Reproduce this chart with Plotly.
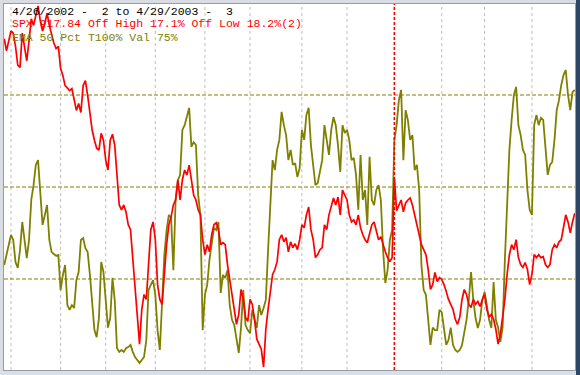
import plotly.graph_objects as go

# trading-day index 0 = 4/26/2002 ... 253 = 4/29/2003
spx = [1075.9, 1065.0, 1074.0, 1083.0, 1081.0, 1069.0, 1052.0, 1050.0, 1081.0, 1069.0,
       1056.0, 1074.0, 1094.0, 1088.0, 1096.6, 1105.6, 1092.0, 1083.0, 1090.0, 1099.0,
       1088.0, 1078.6, 1072.0, 1067.0, 1069.0, 1048.9, 1042.6, 1033.5, 1030.8, 1029.0,
       1030.8, 1020.0, 1011.0, 1017.3, 1009.2, 1033.5, 1038.0, 1024.5, 1006.5, 993.0,
       984.0, 976.8, 975.0, 990.3, 984.0, 966.0, 957.0, 984.0, 989.4, 979.5,
       952.5, 925.4, 921.0, 925.4, 919.0, 907.4, 903.0, 875.9, 848.8, 821.8,
       799.3, 830.8, 844.3, 839.8, 875.9, 903.0, 910.0, 893.9, 853.3, 839.8,
       835.3, 866.9, 889.4, 907.4, 914.6, 925.4, 929.9, 948.0, 929.9, 948.0,
       957.0, 952.5, 961.5, 948.0, 934.4, 929.9, 921.0, 916.4, 893.9, 880.4,
       889.4, 883.0, 898.4, 907.4, 909.2, 903.0, 889.4, 891.2, 889.4, 871.4,
       857.9, 844.3, 830.8, 817.3, 826.3, 848.8, 839.8, 823.6, 820.0, 839.8,
       835.3, 821.8, 803.8, 799.3, 794.8, 778.6, 812.8, 830.8, 844.3, 862.4,
       866.9, 874.0, 893.9, 898.4, 892.0, 895.7, 883.0, 892.0, 886.7, 890.3,
       884.9, 893.9, 907.4, 904.7, 916.4, 923.6, 903.0, 893.9, 877.7, 880.4,
       884.9, 886.7, 907.4, 903.0, 916.4, 925.4, 931.7, 925.4, 932.6, 916.4,
       938.9, 934.4, 929.9, 916.4, 910.0, 911.9, 907.4, 916.4, 904.7, 898.4,
       893.9, 891.2, 898.4, 907.4, 910.0, 903.0, 893.9, 896.6, 889.4, 883.0,
       877.7, 874.0, 877.7, 950.0, 920.2, 925.4, 929.9, 919.1, 927.2, 929.9,
       931.7, 925.4, 916.4, 907.4, 898.4, 889.4, 884.9, 880.4, 866.9, 848.8,
       853.3, 864.2, 856.0, 859.7, 857.9, 853.3, 847.0, 839.8, 835.3, 830.8,
       821.8, 817.3, 823.6, 839.8, 848.8, 844.3, 835.3, 832.6, 839.8, 835.3,
       838.1, 833.5, 839.8, 844.3, 830.8, 823.6, 826.3, 821.8, 812.8, 799.3,
       808.3, 821.8, 839.8, 862.4, 880.4, 889.4, 884.9, 893.9, 877.7, 871.4,
       868.8, 873.2, 866.9, 853.3, 862.4, 880.4, 877.7, 880.4, 877.7, 878.6,
       871.4, 868.8, 871.4, 884.9, 889.4, 886.7, 892.0, 893.9, 904.7, 916.4,
       910.0, 900.2, 910.0, 917.84]

ema_pct = [28.8, 31.5, 34.2, 37.0, 35.6, 29.6, 28.0, 32.9, 40.5, 36.1,
           30.7, 35.6, 46.5, 50.5, 56.0, 57.3, 47.8, 39.7, 42.4, 45.1,
           35.6, 32.3, 31.8, 31.3, 31.5, 22.0, 26.1, 28.8, 17.9, 16.6,
           17.9, 17.1, 24.7, 26.9, 35.6, 36.1, 33.4, 32.3, 26.1, 17.9,
           11.1, 9.2, 14.4, 29.6, 26.9, 19.3, 11.8, 14.4, 25.3, 19.3,
           6.2, 5.2, 5.7, 5.2, 6.2, 6.5, 7.1, 5.2, 3.8, 3.0,
           2.2, 3.0, 3.8, 8.4, 22.0, 23.4, 24.7, 20.7, 11.1, 5.7,
           19.3, 31.5, 38.3, 42.4, 41.6, 27.4, 46.5, 51.9, 53.3, 65.5,
           66.8, 69.6, 71.5, 60.9, 62.2, 61.4, 47.8, 42.4, 11.1, 20.7,
           23.4, 30.2, 34.2, 38.9, 38.3, 40.5, 21.2, 26.1, 25.3, 27.4,
           17.9, 13.9, 12.5, 8.4, 4.9, 11.8, 22.0, 12.5, 11.1, 10.3,
           16.6, 13.9, 11.7, 17.9, 15.2, 17.1, 19.3, 32.9, 46.5, 57.3,
           54.6, 60.1, 62.8, 70.4, 66.8, 64.1, 57.3, 60.1, 56.0, 56.5,
           52.7, 55.2, 65.5, 62.8, 69.6, 71.5, 61.4, 56.0, 50.5, 51.1,
           54.1, 57.3, 66.8, 62.8, 58.7, 65.5, 69.0, 66.8, 61.4, 54.1,
           66.8, 64.7, 65.5, 62.8, 57.3, 57.9, 53.3, 43.8, 58.7, 46.5,
           49.2, 39.7, 58.2, 46.5, 45.1, 49.2, 50.5, 46.5, 32.9, 23.9,
           27.4, 35.6, 38.3, 62.8, 66.8, 73.6, 76.4, 57.3, 70.9, 68.2,
           62.8, 64.1, 54.6, 56.0, 49.2, 28.8, 22.0, 20.7, 13.9, 7.1,
           11.8, 11.1, 11.1, 16.6, 16.0, 11.1, 7.1, 8.4, 11.8, 7.1,
           5.7, 5.2, 5.7, 7.1, 11.1, 13.9, 19.3, 26.9, 19.3, 14.4,
           11.7, 13.9, 19.3, 21.5, 17.9, 13.9, 11.7, 24.2, 13.9, 11.8,
           7.9, 11.8, 30.2, 43.8, 60.1, 68.2, 75.0, 77.2, 66.8, 64.1,
           60.1, 58.7, 49.2, 43.8, 42.4, 66.8, 69.6, 66.8, 68.8, 68.2,
           61.4, 53.3, 56.0, 56.8, 62.8, 70.9, 73.6, 77.7, 80.4, 81.8,
           75.0, 70.9, 75.8, 76.4]

days = list(range(len(spx)))

# first trading day of each month (index); year boundary (Jan 2 2003) marked red
month_starts = [3, 25, 45, 67, 89, 109, 132, 152, 194, 213, 234]
year_start = 173
ref_levels = [25, 50, 75]

title_lines = ["4/26/2002 -  2 to 4/29/2003 -  3",
               "SPX 917.84 Off High 17.1% Off Low 18.2%(2)",
               "EMA 50 Pct T100% Val 75%"]
title_colors = ["#000000", "#ff0000", "#808000"]

W, H = 580, 375
L, R, T, B = 4, 5, 4, 5
pw, ph = W - L - R, H - T - B

fig = go.Figure()
fig.add_trace(go.Scatter(x=days, y=ema_pct, mode="lines", yaxis="y",
                         line=dict(color="#808000", width=1.8), hoverinfo="skip"))
fig.add_trace(go.Scatter(x=days, y=spx, mode="lines", yaxis="y2",
                         line=dict(color="#ff0000", width=1.7), hoverinfo="skip"))

for m in month_starts:
    fig.add_shape(type="line", xref="x", yref="paper", x0=m, x1=m, y0=0, y1=1,
                  line=dict(color="#bdbdbd", width=1, dash="3px,3px"), layer="below")
fig.add_shape(type="line", xref="x", yref="paper", x0=year_start, x1=year_start, y0=0, y1=1,
              line=dict(color="#ff0000", width=1.6, dash="3px,2px"), layer="above")
for lv in ref_levels:
    fig.add_shape(type="line", xref="paper", yref="y", x0=0, x1=1, y0=lv, y1=lv,
                  line=dict(color="#808000", width=1, dash="4px,2px"), layer="below")

def px_x(p):
    return (p - L) / pw

def px_y(p):
    return (H - B - p) / ph

# window chrome
fig.add_shape(type="rect", xref="paper", yref="paper",
              x0=px_x(576), x1=px_x(581), y0=px_y(376), y1=px_y(-1),
              fillcolor="#2d4566", line=dict(width=0), layer="above")
fig.add_shape(type="rect", xref="paper", yref="paper",
              x0=px_x(-1), x1=px_x(576), y0=px_y(376), y1=px_y(371),
              fillcolor="#d3e0ee", line=dict(width=0), layer="above")

line_y = [11, 24, 37.5]
for txt, col, yy in zip(title_lines, title_colors, line_y):
    fig.add_annotation(text=txt, xref="paper", yref="paper", x=px_x(10), y=px_y(yy),
                       xanchor="left", yanchor="middle", showarrow=False,
                       font=dict(family="Liberation Mono", size=11.5, color=col))

fig.update_layout(
    width=W, height=H,
    margin=dict(l=L, r=R, t=T, b=B),
    paper_bgcolor="#d9dde3", plot_bgcolor="#ffffff",
    showlegend=False,
    xaxis=dict(range=[-0.1, 253.1], showgrid=False, zeroline=False, showticklabels=False,
               ticks="", showline=True, mirror=True, linecolor="#9b9b9b", linewidth=1),
    yaxis=dict(range=[0.27, 99.73], showgrid=False, zeroline=False, showticklabels=False,
               ticks="", showline=True, mirror=True, linecolor="#9b9b9b", linewidth=1),
    yaxis2=dict(range=[775.9, 1107.4], overlaying="y", showgrid=False, zeroline=False,
                showticklabels=False, ticks="", showline=False),
)

fig.write_html("out.html", config={"displayModeBar": False},
               post_script="document.body.style.margin='0';document.body.style.overflow='hidden';")
